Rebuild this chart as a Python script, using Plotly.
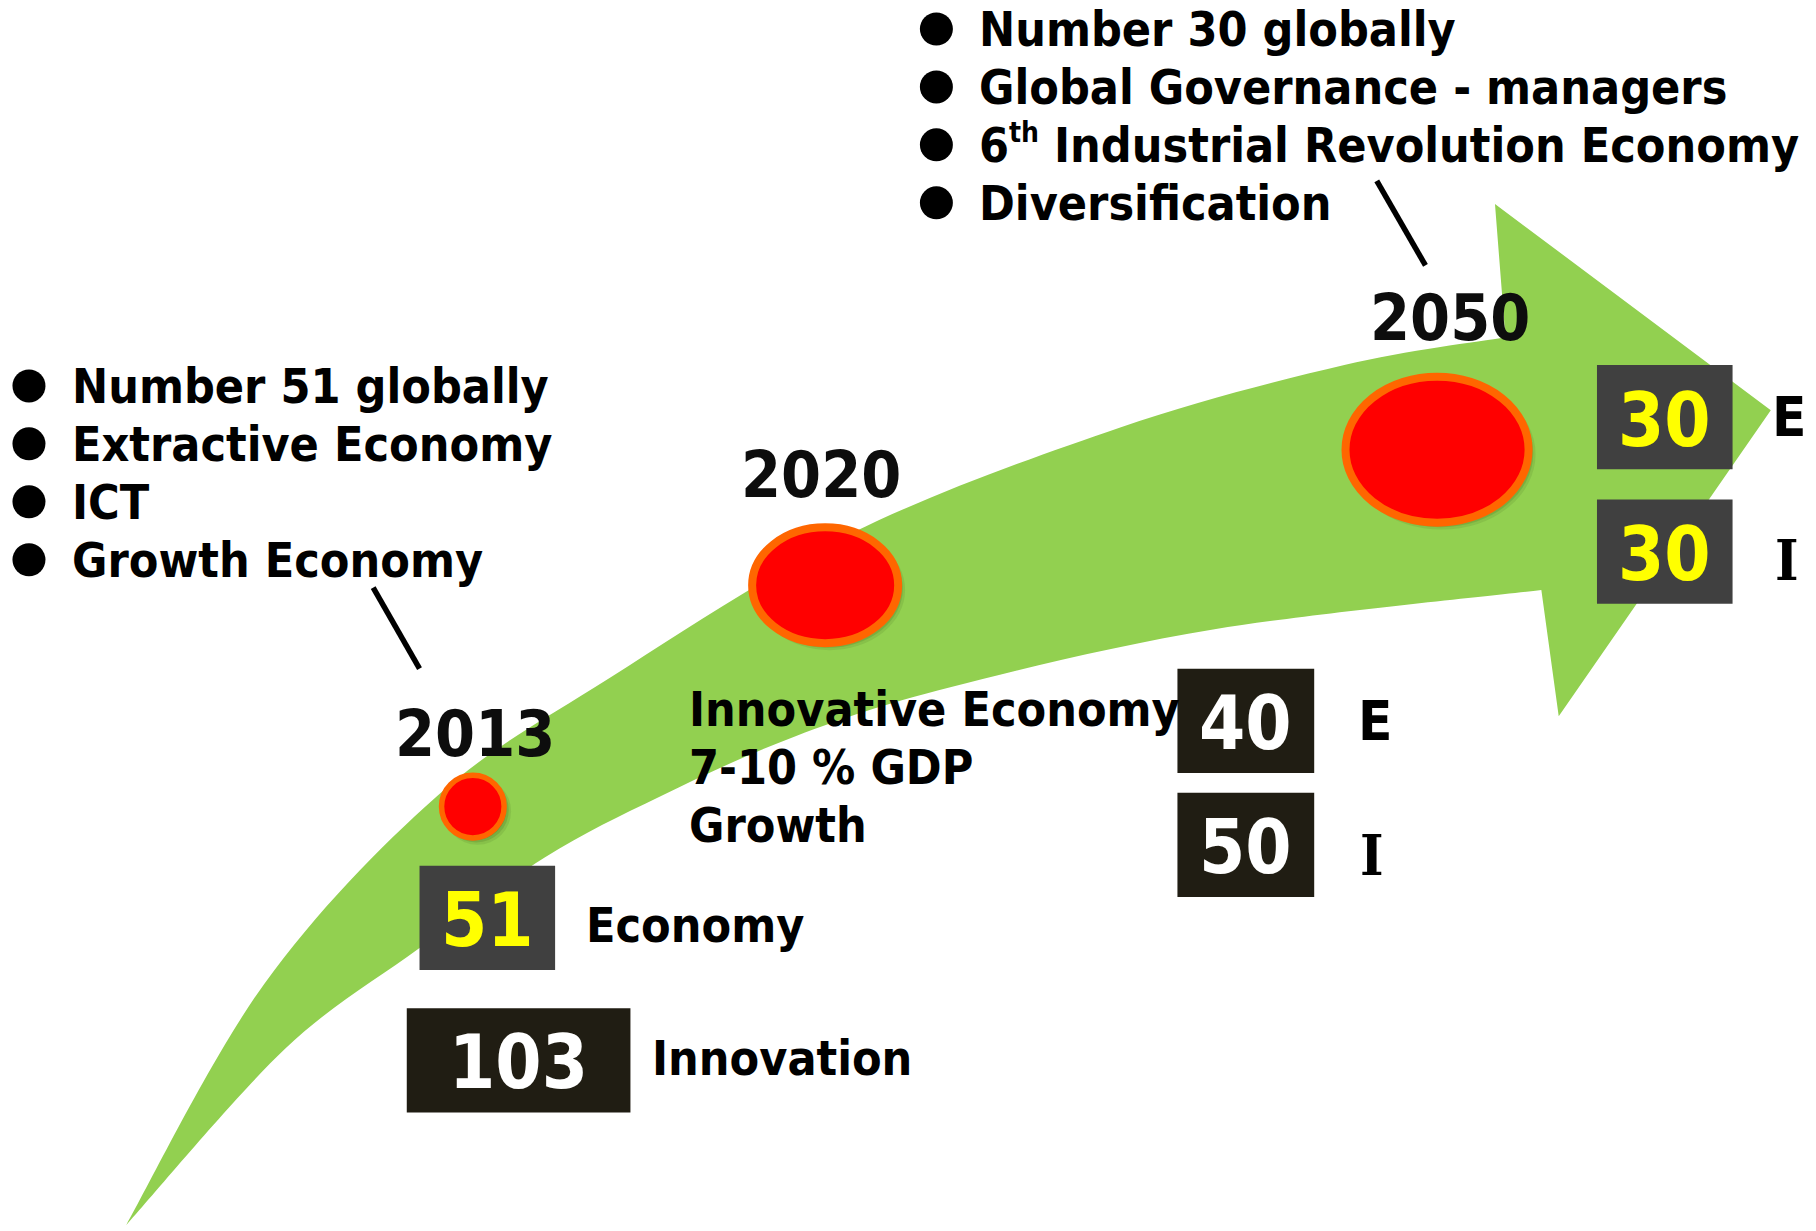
import plotly.graph_objects as go

# ---------------- data ----------------
years = ["2013", "2020", "2050"]
economy_rank = [51, 40, 30]
innovation_rank = [103, 50, 30]
left_bullets = ["Number 51 globally", "Extractive Economy", "ICT", "Growth Economy"]
top_bullets = ["Number 30 globally", "Global Governance - managers",
               "6<sup><span style='font-size:28px'>th</span></sup> Industrial Revolution Economy",
               "Diversification"]
mid_lines = ["Innovative Economy", "7-10 % GDP", "Growth"]
economy_labels = ["Economy", "E", "E"]
innovation_labels = ["Innovation", "I", "I"]

# ---------------- layout (design units) ----------------
W, H = 1816, 1231
XMAX = 1567.0
YMAX = XMAX * H / W

FONT = "DejaVu Sans Condensed, DejaVu Sans, sans-serif"
SERIF = "DejaVu Serif Condensed, DejaVu Serif, serif"
GREEN = "#92D050"
GRAY_BOX = "#404040"
DARK_BOX = "#201D13"

year_pos = [(410, 633), (708, 410), (1251, 274)]
dot_geom = [(408, 696, 27, 27), (712, 505, 63, 50), (1240, 388, 79, 63)]
econ_box = [(362, 479, 747, 837), (1016, 1134, 577, 667), (1378, 1495, 315, 405)]
innov_box = [(351, 544, 870, 960), (1016, 1134, 684, 774), (1378, 1495, 431, 521)]
econ_style = [(GRAY_BOX, "#FFFF00"), (DARK_BOX, "white"), (GRAY_BOX, "#FFFF00")]
innov_style = [(DARK_BOX, "white"), (DARK_BOX, "white"), (GRAY_BOX, "#FFFF00")]
econ_num_y = [794, 624, 362]
innov_num_y = [916, 731, 478]
econ_lab_pos = [(504, 798), (1170, 622), (1527, 359)]
innov_lab_pos = [(561, 913), (1172, 738), (1530, 483)]

upper_edge = [(109, 1057), (228, 849), (377, 687), (526, 585), (735, 460),
              (966, 369), (1160, 315), (1299, 291)]
head = [(1290, 176), (1528, 354), (1345, 618), (1330, 509)]
lower_edge = [(109, 1057), (246, 905), (362, 818), (470, 740), (570, 687),
              (687, 635), (820, 593), (1048, 543), (1330, 509)]


def cr_path(pts):
    """Catmull-Rom through pts -> cubic bezier segments (without initial M)."""
    segs = []
    n = len(pts)
    for i in range(n - 1):
        p0 = pts[i - 1] if i > 0 else pts[i]
        p1 = pts[i]
        p2 = pts[i + 1]
        p3 = pts[i + 2] if i + 2 < n else pts[i + 1]
        c1 = (p1[0] + (p2[0] - p0[0]) / 6, p1[1] + (p2[1] - p0[1]) / 6)
        c2 = (p2[0] - (p3[0] - p1[0]) / 6, p2[1] - (p3[1] - p1[1]) / 6)
        segs.append(f"C{c1[0]:.1f},{c1[1]:.1f} {c2[0]:.1f},{c2[1]:.1f} {p2[0]:.1f},{p2[1]:.1f}")
    return " ".join(segs)


path = f"M{upper_edge[0][0]},{upper_edge[0][1]} " + cr_path(upper_edge)
for p in head:
    path += f" L{p[0]},{p[1]}"
path += " " + cr_path(lower_edge[::-1]) + " Z"

shapes = [dict(type="path", path=path, fillcolor=GREEN, line=dict(width=0), layer="below")]

# connector lines
for (x0, y0, x1, y1) in [(322, 507, 362, 577), (1188, 156, 1230, 229)]:
    shapes.append(dict(type="line", x0=x0, y0=y0, x1=x1, y1=y1,
                       line=dict(color="black", width=5.5), layer="below"))

# dots with soft shadow
for (cx, cy, rx, ry) in dot_geom:
    for k, a in [(6, 0.10), (4, 0.15), (2, 0.2)]:
        shapes.append(dict(type="circle", x0=cx - rx + 2, x1=cx + rx + k, y0=cy - ry + 2, y1=cy + ry + k,
                           fillcolor=f"rgba(40,70,20,{a})", line=dict(width=0), layer="below"))
    lw = 5.5 if rx < 40 else 8
    shapes.append(dict(type="circle", x0=cx - rx, x1=cx + rx, y0=cy - ry, y1=cy + ry,
                       fillcolor="#FF0000", line=dict(color="#FF6600", width=lw), layer="below"))

# rank boxes
for boxes, styles in [(econ_box, econ_style), (innov_box, innov_style)]:
    for (x0, x1, y0, y1), (bg, _) in zip(boxes, styles):
        shapes.append(dict(type="rect", x0=x0, x1=x1, y0=y0, y1=y1,
                           fillcolor=bg, line=dict(width=0), layer="below"))

annotations = []


def txt(text, x, y, size, color="black", xanchor="left", family=FONT):
    annotations.append(dict(text=text, x=x, y=y, xref="x", yref="y", showarrow=False,
                            xanchor=xanchor, yanchor="middle",
                            font=dict(family=family, size=size, color=color, weight="bold")))


BODY = 48
for i, t in enumerate(top_bullets):
    txt(t, 843, 25 + 50 * i, BODY)
for i, t in enumerate(left_bullets):
    txt(t, 60, 333 + 50 * i, BODY)
for i, t in enumerate(mid_lines):
    txt(t, 593, 612 + 50 * i, BODY)

for yr, (x, y) in zip(years, year_pos):
    txt(yr, x, y, 64, color="#0D0D0D", xanchor="center")

for i in range(3):
    (x0, x1, _, _), (_, fc) = econ_box[i], econ_style[i]
    txt(str(economy_rank[i]), (x0 + x1) / 2, econ_num_y[i], 74, color=fc, xanchor="center")
    (x0, x1, _, _), (_, fc) = innov_box[i], innov_style[i]
    txt(str(innovation_rank[i]), (x0 + x1) / 2, innov_num_y[i], 74, color=fc, xanchor="center")
    lx, ly = econ_lab_pos[i]
    txt(economy_labels[i], lx, ly, BODY if i == 0 else 56)
    lx, ly = innov_lab_pos[i]
    if i == 0:
        txt(innovation_labels[i], lx, ly, BODY)
    else:
        txt(innovation_labels[i], lx, ly, 56, family=SERIF)

# bullet dots
bx = [808] * len(top_bullets) + [25] * len(left_bullets)
by = [25 + 50 * i for i in range(len(top_bullets))] + [333 + 50 * i for i in range(len(left_bullets))]
fig = go.Figure(go.Scatter(x=bx, y=by, mode="markers",
                           marker=dict(size=33, color="black"), hoverinfo="skip"))

fig.update_layout(
    width=W, height=H, margin=dict(l=0, r=0, t=0, b=0),
    paper_bgcolor="white", plot_bgcolor="white", showlegend=False,
    xaxis=dict(range=[0, XMAX], visible=False, fixedrange=True),
    yaxis=dict(range=[YMAX, 0], visible=False, fixedrange=True),
    shapes=shapes, annotations=annotations,
)
fig.write_html("out.html", config={"displayModeBar": False},
               post_script="document.body.style.margin='0';document.body.style.overflow='hidden';")
